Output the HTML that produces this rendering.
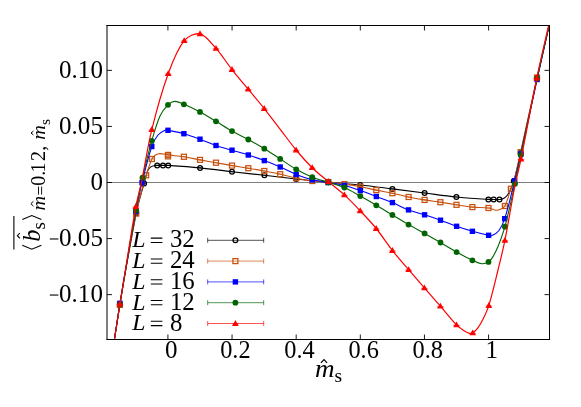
<!DOCTYPE html>
<html><head><meta charset="utf-8"><title>chart</title>
<style>html,body{margin:0;padding:0;background:#fff;}svg{display:block;font-family:"Liberation Serif",serif;}</style>
</head><body>
<svg width="581" height="407" viewBox="0 0 581 407">
<rect width="581" height="407" fill="#fff"/>
<defs><clipPath id="cp"><rect x="107.00" y="25.50" width="442.50" height="314.00"/></clipPath></defs>
<path d="M107.00 182.50H549.50" stroke="#000" stroke-width="0.5"/>
<g clip-path="url(#cp)" fill="none">
<path d="M114.40 339.50 C116.18 328.15 118.00 316.16 119.90 304.50 C121.77 292.99 123.65 281.48 125.70 270.00 C129.09 250.98 132.41 231.94 136.20 213.00 C137.41 206.94 139.10 200.97 140.70 195.00 C141.73 191.14 143.00 187.34 144.10 183.50 C145.24 179.51 145.90 175.31 147.40 171.50 C148.04 169.88 149.20 168.29 150.50 167.20 C151.50 166.36 153.00 166.05 154.30 165.70 C155.23 165.45 156.23 165.43 157.20 165.40 C159.13 165.33 161.07 165.40 163.00 165.40 C164.73 165.40 166.47 165.28 168.20 165.40 C178.84 166.12 189.49 166.85 200.10 167.90 C210.75 168.95 221.36 170.48 232.00 171.70 C242.80 172.94 253.60 174.07 264.40 175.30 C275.00 176.51 285.59 177.84 296.20 179.00 C306.89 180.17 317.59 181.30 328.30 182.30 C338.92 183.30 349.59 183.91 360.20 185.00 C370.95 186.11 381.67 187.57 392.40 188.90 C403.14 190.23 413.87 191.64 424.60 193.00 C435.20 194.34 445.77 195.93 456.40 197.00 C467.04 198.07 477.73 198.68 488.40 199.40 C490.16 199.52 491.93 199.48 493.70 199.50 C495.63 199.52 497.60 199.72 499.50 199.50 C501.03 199.32 502.69 199.04 504.00 198.30 C505.35 197.54 506.56 196.28 507.50 195.00 C508.83 193.18 509.87 191.08 510.80 189.00 C511.97 186.41 513.05 183.74 513.80 181.00 C516.35 171.74 518.58 162.38 520.70 153.00 C526.35 128.04 531.54 102.98 537.10 78.00 C541.00 60.48 545.17 42.68 549.10 25.50" stroke="#000000" stroke-width="1.1" fill="none"/>
<circle cx="119.90" cy="304.50" r="2.4" fill="none" stroke="#000000" stroke-width="1.25"/><path d="M117.40 304.50h5" stroke="#000000" stroke-width="0.7"/>
<circle cx="136.20" cy="213.00" r="2.4" fill="none" stroke="#000000" stroke-width="1.25"/><path d="M133.70 213.00h5" stroke="#000000" stroke-width="0.7"/>
<circle cx="144.10" cy="183.50" r="2.4" fill="none" stroke="#000000" stroke-width="1.25"/><path d="M141.60 183.50h5" stroke="#000000" stroke-width="0.7"/>
<circle cx="157.20" cy="165.40" r="2.4" fill="none" stroke="#000000" stroke-width="1.25"/><path d="M154.70 165.40h5" stroke="#000000" stroke-width="0.7"/>
<circle cx="163.00" cy="165.40" r="2.4" fill="none" stroke="#000000" stroke-width="1.25"/><path d="M160.50 165.40h5" stroke="#000000" stroke-width="0.7"/>
<circle cx="168.20" cy="165.40" r="2.4" fill="none" stroke="#000000" stroke-width="1.25"/><path d="M165.70 165.40h5" stroke="#000000" stroke-width="0.7"/>
<circle cx="200.10" cy="167.90" r="2.4" fill="none" stroke="#000000" stroke-width="1.25"/><path d="M197.60 167.90h5" stroke="#000000" stroke-width="0.7"/>
<circle cx="232.00" cy="171.70" r="2.4" fill="none" stroke="#000000" stroke-width="1.25"/><path d="M229.50 171.70h5" stroke="#000000" stroke-width="0.7"/>
<circle cx="264.40" cy="175.30" r="2.4" fill="none" stroke="#000000" stroke-width="1.25"/><path d="M261.90 175.30h5" stroke="#000000" stroke-width="0.7"/>
<circle cx="296.20" cy="179.00" r="2.4" fill="none" stroke="#000000" stroke-width="1.25"/><path d="M293.70 179.00h5" stroke="#000000" stroke-width="0.7"/>
<circle cx="328.30" cy="182.30" r="2.4" fill="none" stroke="#000000" stroke-width="1.25"/><path d="M325.80 182.30h5" stroke="#000000" stroke-width="0.7"/>
<circle cx="360.20" cy="185.00" r="2.4" fill="none" stroke="#000000" stroke-width="1.25"/><path d="M357.70 185.00h5" stroke="#000000" stroke-width="0.7"/>
<circle cx="392.40" cy="188.90" r="2.4" fill="none" stroke="#000000" stroke-width="1.25"/><path d="M389.90 188.90h5" stroke="#000000" stroke-width="0.7"/>
<circle cx="424.60" cy="193.00" r="2.4" fill="none" stroke="#000000" stroke-width="1.25"/><path d="M422.10 193.00h5" stroke="#000000" stroke-width="0.7"/>
<circle cx="456.40" cy="197.00" r="2.4" fill="none" stroke="#000000" stroke-width="1.25"/><path d="M453.90 197.00h5" stroke="#000000" stroke-width="0.7"/>
<circle cx="488.40" cy="199.40" r="2.4" fill="none" stroke="#000000" stroke-width="1.25"/><path d="M485.90 199.40h5" stroke="#000000" stroke-width="0.7"/>
<circle cx="493.70" cy="199.50" r="2.4" fill="none" stroke="#000000" stroke-width="1.25"/><path d="M491.20 199.50h5" stroke="#000000" stroke-width="0.7"/>
<circle cx="499.50" cy="199.50" r="2.4" fill="none" stroke="#000000" stroke-width="1.25"/><path d="M497.00 199.50h5" stroke="#000000" stroke-width="0.7"/>
<circle cx="513.80" cy="181.00" r="2.4" fill="none" stroke="#000000" stroke-width="1.25"/><path d="M511.30 181.00h5" stroke="#000000" stroke-width="0.7"/>
<circle cx="520.70" cy="153.00" r="2.4" fill="none" stroke="#000000" stroke-width="1.25"/><path d="M518.20 153.00h5" stroke="#000000" stroke-width="0.7"/>
<circle cx="537.10" cy="78.00" r="2.4" fill="none" stroke="#000000" stroke-width="1.25"/><path d="M534.60 78.00h5" stroke="#000000" stroke-width="0.7"/>
<path d="M114.40 339.50 C116.18 328.29 118.03 316.43 119.90 304.90 C121.79 293.26 123.63 281.61 125.70 270.00 C129.06 251.18 132.47 232.35 136.20 213.60 C137.44 207.35 138.99 201.16 140.60 195.00 C142.32 188.40 144.16 181.81 146.20 175.30 C147.92 169.81 149.54 164.16 151.90 159.00 C152.64 157.39 154.06 155.96 155.50 155.00 C156.76 154.16 158.47 153.61 160.00 153.60 C162.63 153.58 165.32 154.54 168.00 154.90 C173.29 155.61 178.63 155.98 183.90 156.80 C189.30 157.64 194.62 158.91 200.00 159.90 C205.32 160.88 210.67 161.75 216.00 162.70 C221.34 163.65 226.66 164.69 232.00 165.60 C237.42 166.52 242.87 167.29 248.30 168.20 C253.64 169.09 258.98 170.00 264.30 171.00 C269.61 172.00 274.93 173.01 280.20 174.20 C285.56 175.41 290.83 177.06 296.20 178.20 C301.53 179.33 306.90 180.36 312.30 181.00 C317.60 181.63 322.98 181.49 328.30 182.00 C333.68 182.52 339.05 183.31 344.40 184.10 C349.71 184.88 355.02 185.71 360.30 186.70 C365.66 187.71 370.96 189.02 376.30 190.10 C381.66 191.18 387.06 192.06 392.40 193.20 C397.82 194.36 403.17 195.87 408.60 197.00 C413.90 198.10 419.25 199.03 424.60 199.90 C429.85 200.76 435.14 201.39 440.40 202.20 C445.77 203.03 451.13 203.98 456.50 204.80 C461.79 205.61 467.08 206.57 472.40 207.10 C477.74 207.63 483.20 207.30 488.50 208.00 C491.00 208.33 493.35 210.00 495.80 210.20 C497.52 210.34 499.42 209.73 501.00 209.00 C502.46 208.33 504.20 207.43 504.90 206.00 C507.50 200.70 508.93 194.54 510.90 188.80 C512.29 184.74 513.90 180.74 515.00 176.60 C517.14 168.54 518.79 160.35 520.60 152.20 C526.12 127.31 531.41 102.37 537.00 77.50 C540.91 60.14 545.14 42.51 549.10 25.50" stroke="#c8500f" stroke-width="1.1" fill="none"/>
<rect x="117.40" y="302.40" width="5" height="5" fill="none" stroke="#c8500f" stroke-width="1.25"/><path d="M117.40 304.90h5" stroke="#c8500f" stroke-width="0.7"/>
<rect x="133.70" y="211.10" width="5" height="5" fill="none" stroke="#c8500f" stroke-width="1.25"/><path d="M133.70 213.60h5" stroke="#c8500f" stroke-width="0.7"/>
<rect x="143.70" y="172.80" width="5" height="5" fill="none" stroke="#c8500f" stroke-width="1.25"/><path d="M143.70 175.30h5" stroke="#c8500f" stroke-width="0.7"/>
<rect x="149.40" y="156.50" width="5" height="5" fill="none" stroke="#c8500f" stroke-width="1.25"/><path d="M149.40 159.00h5" stroke="#c8500f" stroke-width="0.7"/>
<rect x="165.50" y="152.40" width="5" height="5" fill="none" stroke="#c8500f" stroke-width="1.25"/><path d="M165.50 154.90h5" stroke="#c8500f" stroke-width="0.7"/>
<rect x="165.50" y="153.90" width="5" height="5" fill="none" stroke="#c8500f" stroke-width="1.25"/><path d="M165.50 156.40h5" stroke="#c8500f" stroke-width="0.7"/>
<rect x="181.40" y="154.30" width="5" height="5" fill="none" stroke="#c8500f" stroke-width="1.25"/><path d="M181.40 156.80h5" stroke="#c8500f" stroke-width="0.7"/>
<rect x="197.50" y="157.40" width="5" height="5" fill="none" stroke="#c8500f" stroke-width="1.25"/><path d="M197.50 159.90h5" stroke="#c8500f" stroke-width="0.7"/>
<rect x="213.50" y="160.20" width="5" height="5" fill="none" stroke="#c8500f" stroke-width="1.25"/><path d="M213.50 162.70h5" stroke="#c8500f" stroke-width="0.7"/>
<rect x="229.50" y="163.10" width="5" height="5" fill="none" stroke="#c8500f" stroke-width="1.25"/><path d="M229.50 165.60h5" stroke="#c8500f" stroke-width="0.7"/>
<rect x="245.80" y="165.70" width="5" height="5" fill="none" stroke="#c8500f" stroke-width="1.25"/><path d="M245.80 168.20h5" stroke="#c8500f" stroke-width="0.7"/>
<rect x="261.80" y="168.50" width="5" height="5" fill="none" stroke="#c8500f" stroke-width="1.25"/><path d="M261.80 171.00h5" stroke="#c8500f" stroke-width="0.7"/>
<rect x="277.70" y="171.70" width="5" height="5" fill="none" stroke="#c8500f" stroke-width="1.25"/><path d="M277.70 174.20h5" stroke="#c8500f" stroke-width="0.7"/>
<rect x="293.70" y="175.70" width="5" height="5" fill="none" stroke="#c8500f" stroke-width="1.25"/><path d="M293.70 178.20h5" stroke="#c8500f" stroke-width="0.7"/>
<rect x="309.80" y="178.50" width="5" height="5" fill="none" stroke="#c8500f" stroke-width="1.25"/><path d="M309.80 181.00h5" stroke="#c8500f" stroke-width="0.7"/>
<rect x="325.80" y="179.50" width="5" height="5" fill="none" stroke="#c8500f" stroke-width="1.25"/><path d="M325.80 182.00h5" stroke="#c8500f" stroke-width="0.7"/>
<rect x="341.90" y="181.60" width="5" height="5" fill="none" stroke="#c8500f" stroke-width="1.25"/><path d="M341.90 184.10h5" stroke="#c8500f" stroke-width="0.7"/>
<rect x="357.80" y="184.20" width="5" height="5" fill="none" stroke="#c8500f" stroke-width="1.25"/><path d="M357.80 186.70h5" stroke="#c8500f" stroke-width="0.7"/>
<rect x="373.80" y="187.60" width="5" height="5" fill="none" stroke="#c8500f" stroke-width="1.25"/><path d="M373.80 190.10h5" stroke="#c8500f" stroke-width="0.7"/>
<rect x="389.90" y="190.70" width="5" height="5" fill="none" stroke="#c8500f" stroke-width="1.25"/><path d="M389.90 193.20h5" stroke="#c8500f" stroke-width="0.7"/>
<rect x="406.10" y="194.50" width="5" height="5" fill="none" stroke="#c8500f" stroke-width="1.25"/><path d="M406.10 197.00h5" stroke="#c8500f" stroke-width="0.7"/>
<rect x="422.10" y="197.40" width="5" height="5" fill="none" stroke="#c8500f" stroke-width="1.25"/><path d="M422.10 199.90h5" stroke="#c8500f" stroke-width="0.7"/>
<rect x="437.90" y="199.70" width="5" height="5" fill="none" stroke="#c8500f" stroke-width="1.25"/><path d="M437.90 202.20h5" stroke="#c8500f" stroke-width="0.7"/>
<rect x="454.00" y="202.30" width="5" height="5" fill="none" stroke="#c8500f" stroke-width="1.25"/><path d="M454.00 204.80h5" stroke="#c8500f" stroke-width="0.7"/>
<rect x="469.90" y="204.60" width="5" height="5" fill="none" stroke="#c8500f" stroke-width="1.25"/><path d="M469.90 207.10h5" stroke="#c8500f" stroke-width="0.7"/>
<rect x="486.00" y="205.50" width="5" height="5" fill="none" stroke="#c8500f" stroke-width="1.25"/><path d="M486.00 208.00h5" stroke="#c8500f" stroke-width="0.7"/>
<rect x="502.40" y="203.50" width="5" height="5" fill="none" stroke="#c8500f" stroke-width="1.25"/><path d="M502.40 206.00h5" stroke="#c8500f" stroke-width="0.7"/>
<rect x="508.40" y="186.30" width="5" height="5" fill="none" stroke="#c8500f" stroke-width="1.25"/><path d="M508.40 188.80h5" stroke="#c8500f" stroke-width="0.7"/>
<rect x="518.10" y="149.70" width="5" height="5" fill="none" stroke="#c8500f" stroke-width="1.25"/><path d="M518.10 152.20h5" stroke="#c8500f" stroke-width="0.7"/>
<rect x="534.50" y="75.00" width="5" height="5" fill="none" stroke="#c8500f" stroke-width="1.25"/><path d="M534.50 77.50h5" stroke="#c8500f" stroke-width="0.7"/>
<path d="M114.40 339.50 C116.18 327.75 117.98 315.35 119.90 303.30 C121.68 292.19 123.57 281.09 125.50 270.00 C128.91 250.39 132.21 230.76 135.90 211.20 C137.71 201.62 139.67 192.06 142.00 182.60 C144.97 170.50 147.85 158.26 151.80 146.50 C153.18 142.39 155.33 138.29 158.00 135.00 C159.73 132.86 162.54 131.36 165.00 130.20 C165.87 129.79 167.02 130.12 168.00 130.30 C173.32 131.28 178.69 132.25 183.90 133.70 C189.35 135.22 194.68 137.24 200.00 139.20 C205.38 141.18 210.58 143.64 216.00 145.50 C221.25 147.31 226.67 148.63 232.00 150.20 C237.43 151.80 242.91 153.26 248.30 155.00 C253.68 156.73 259.01 158.61 264.30 160.60 C269.65 162.61 274.96 164.73 280.20 167.00 C285.59 169.33 290.75 172.23 296.20 174.40 C301.45 176.49 306.83 178.42 312.30 179.80 C317.53 181.12 322.97 181.55 328.30 182.50 C333.67 183.45 339.12 184.16 344.40 185.50 C349.79 186.86 355.04 188.79 360.30 190.60 C365.67 192.45 370.98 194.51 376.30 196.50 C381.68 198.51 387.10 200.40 392.40 202.60 C397.84 204.86 403.00 207.82 408.50 209.90 C413.73 211.88 419.26 213.08 424.60 214.80 C429.93 216.51 435.23 218.31 440.50 220.20 C445.90 222.14 451.18 224.41 456.60 226.30 C461.82 228.11 467.08 229.81 472.40 231.30 C477.75 232.81 483.18 234.11 488.60 235.30 C489.71 235.54 491.02 236.05 492.00 235.60 C494.49 234.45 497.32 232.74 499.00 230.50 C501.55 227.11 503.39 222.85 504.70 218.70 C508.62 206.28 511.55 193.48 514.70 180.80 C516.91 171.91 518.82 162.95 520.80 154.00 C526.29 129.18 531.63 104.33 537.10 79.50 C541.07 61.49 545.17 43.18 549.10 25.50" stroke="#0000ff" stroke-width="1.1" fill="none"/>
<rect x="117.20" y="300.60" width="5.4" height="5.4" fill="#0000ff"/>
<rect x="133.20" y="208.50" width="5.4" height="5.4" fill="#0000ff"/>
<rect x="139.30" y="179.90" width="5.4" height="5.4" fill="#0000ff"/>
<rect x="149.10" y="143.80" width="5.4" height="5.4" fill="#0000ff"/>
<rect x="165.30" y="127.60" width="5.4" height="5.4" fill="#0000ff"/>
<rect x="181.20" y="131.00" width="5.4" height="5.4" fill="#0000ff"/>
<rect x="197.30" y="136.50" width="5.4" height="5.4" fill="#0000ff"/>
<rect x="213.30" y="142.80" width="5.4" height="5.4" fill="#0000ff"/>
<rect x="229.30" y="147.50" width="5.4" height="5.4" fill="#0000ff"/>
<rect x="245.60" y="152.30" width="5.4" height="5.4" fill="#0000ff"/>
<rect x="261.60" y="157.90" width="5.4" height="5.4" fill="#0000ff"/>
<rect x="277.50" y="164.30" width="5.4" height="5.4" fill="#0000ff"/>
<rect x="293.50" y="171.70" width="5.4" height="5.4" fill="#0000ff"/>
<rect x="309.60" y="177.10" width="5.4" height="5.4" fill="#0000ff"/>
<rect x="325.60" y="179.80" width="5.4" height="5.4" fill="#0000ff"/>
<rect x="341.70" y="182.80" width="5.4" height="5.4" fill="#0000ff"/>
<rect x="357.60" y="187.90" width="5.4" height="5.4" fill="#0000ff"/>
<rect x="373.60" y="193.80" width="5.4" height="5.4" fill="#0000ff"/>
<rect x="389.70" y="199.90" width="5.4" height="5.4" fill="#0000ff"/>
<rect x="405.80" y="207.20" width="5.4" height="5.4" fill="#0000ff"/>
<rect x="421.90" y="212.10" width="5.4" height="5.4" fill="#0000ff"/>
<rect x="437.80" y="217.50" width="5.4" height="5.4" fill="#0000ff"/>
<rect x="453.90" y="223.60" width="5.4" height="5.4" fill="#0000ff"/>
<rect x="469.70" y="228.60" width="5.4" height="5.4" fill="#0000ff"/>
<rect x="485.90" y="232.60" width="5.4" height="5.4" fill="#0000ff"/>
<rect x="502.00" y="216.00" width="5.4" height="5.4" fill="#0000ff"/>
<rect x="512.00" y="178.10" width="5.4" height="5.4" fill="#0000ff"/>
<rect x="518.10" y="151.30" width="5.4" height="5.4" fill="#0000ff"/>
<rect x="534.40" y="76.80" width="5.4" height="5.4" fill="#0000ff"/>
<path d="M114.40 339.50 C116.18 328.15 118.02 316.16 119.90 304.50 C121.75 292.99 123.65 281.49 125.60 270.00 C128.98 250.09 132.26 230.16 135.90 210.30 C137.90 199.40 140.03 188.50 142.50 177.70 C145.33 165.34 148.34 153.00 151.80 140.80 C154.17 132.43 156.46 123.86 160.00 116.00 C161.86 111.86 164.83 107.95 168.00 104.80 C169.73 103.08 172.38 101.47 174.70 101.40 C177.68 101.31 180.94 103.07 183.90 104.30 C189.37 106.57 194.76 109.13 200.00 111.90 C205.46 114.79 210.70 118.12 216.00 121.30 C221.36 124.52 226.55 128.03 232.00 131.10 C237.32 134.10 242.93 136.58 248.30 139.50 C253.70 142.44 259.05 145.50 264.30 148.70 C269.68 151.97 274.91 155.48 280.20 158.90 C285.54 162.35 290.68 166.16 296.20 169.30 C301.38 172.26 306.77 174.96 312.30 177.20 C317.47 179.30 322.97 180.59 328.30 182.30 C333.67 184.02 339.24 185.28 344.40 187.50 C349.91 189.88 355.04 193.16 360.30 196.10 C365.67 199.10 371.00 202.18 376.30 205.30 C381.70 208.48 387.03 211.78 392.40 215.00 C397.76 218.21 403.08 221.50 408.50 224.60 C413.81 227.63 419.26 230.41 424.60 233.40 C429.93 236.38 435.23 239.42 440.50 242.50 C445.89 245.65 451.15 249.06 456.60 252.10 C461.78 254.99 467.03 257.81 472.40 260.30 C475.36 261.67 478.49 263.39 481.60 263.70 C483.86 263.92 486.55 263.06 488.50 261.90 C490.25 260.86 491.60 258.90 492.70 257.10 C494.83 253.60 496.66 249.83 498.20 246.00 C500.73 239.69 503.13 233.27 504.90 226.70 C508.73 212.53 511.82 198.14 515.00 183.80 C517.12 174.27 518.80 164.65 520.80 155.10 C526.16 129.55 531.53 104.00 537.10 78.50 C540.96 60.80 545.17 42.85 549.10 25.50" stroke="#006400" stroke-width="1.1" fill="none"/>
<circle cx="119.90" cy="304.50" r="2.9" fill="#006400"/>
<circle cx="135.90" cy="210.30" r="2.9" fill="#006400"/>
<circle cx="142.50" cy="177.70" r="2.9" fill="#006400"/>
<circle cx="151.80" cy="140.80" r="2.9" fill="#006400"/>
<circle cx="168.00" cy="104.80" r="2.9" fill="#006400"/>
<circle cx="183.90" cy="104.30" r="2.9" fill="#006400"/>
<circle cx="200.00" cy="111.90" r="2.9" fill="#006400"/>
<circle cx="216.00" cy="121.30" r="2.9" fill="#006400"/>
<circle cx="232.00" cy="131.10" r="2.9" fill="#006400"/>
<circle cx="248.30" cy="139.50" r="2.9" fill="#006400"/>
<circle cx="264.30" cy="148.70" r="2.9" fill="#006400"/>
<circle cx="280.20" cy="158.90" r="2.9" fill="#006400"/>
<circle cx="296.20" cy="169.30" r="2.9" fill="#006400"/>
<circle cx="312.30" cy="177.20" r="2.9" fill="#006400"/>
<circle cx="328.30" cy="182.30" r="2.9" fill="#006400"/>
<circle cx="344.40" cy="187.50" r="2.9" fill="#006400"/>
<circle cx="360.30" cy="196.10" r="2.9" fill="#006400"/>
<circle cx="376.30" cy="205.30" r="2.9" fill="#006400"/>
<circle cx="392.40" cy="215.00" r="2.9" fill="#006400"/>
<circle cx="408.50" cy="224.60" r="2.9" fill="#006400"/>
<circle cx="424.60" cy="233.40" r="2.9" fill="#006400"/>
<circle cx="440.50" cy="242.50" r="2.9" fill="#006400"/>
<circle cx="456.60" cy="252.10" r="2.9" fill="#006400"/>
<circle cx="472.40" cy="260.30" r="2.9" fill="#006400"/>
<circle cx="488.50" cy="261.90" r="2.9" fill="#006400"/>
<circle cx="504.90" cy="226.70" r="2.9" fill="#006400"/>
<circle cx="515.00" cy="183.80" r="2.9" fill="#006400"/>
<circle cx="520.80" cy="155.10" r="2.9" fill="#006400"/>
<circle cx="537.10" cy="78.50" r="2.9" fill="#006400"/>
<path d="M114.40 339.50 C116.18 327.99 118.03 315.83 119.90 304.00 C121.69 292.66 123.55 281.33 125.40 270.00 C128.85 248.86 131.95 227.66 135.80 206.60 C137.35 198.16 139.85 189.91 141.60 181.50 C145.19 164.24 147.58 146.70 151.80 129.60 C156.45 110.77 161.57 91.89 168.20 73.70 C172.37 62.25 176.99 49.75 184.20 40.70 C187.59 36.45 195.30 32.66 200.00 33.80 C205.90 35.23 211.21 43.04 216.00 48.40 C221.88 54.97 226.52 62.65 232.00 69.60 C237.25 76.25 242.80 82.66 248.20 89.20 C253.54 95.66 258.97 102.05 264.20 108.60 C269.64 115.42 274.88 122.39 280.20 129.30 C285.51 136.19 290.53 143.32 296.10 150.00 C301.20 156.12 306.52 162.12 312.20 167.70 C317.25 172.66 322.88 177.03 328.30 181.60 C333.62 186.09 339.27 190.21 344.40 194.90 C349.90 199.94 355.07 205.37 360.20 210.80 C365.67 216.57 371.20 222.33 376.20 228.50 C381.93 235.56 386.77 243.35 392.40 250.50 C397.57 257.08 403.16 263.34 408.60 269.70 C413.82 275.80 419.12 281.84 424.40 287.90 C429.72 294.01 435.09 300.08 440.40 306.20 C445.79 312.41 450.80 319.01 456.50 324.90 C458.80 327.28 461.63 329.19 464.40 331.00 C465.96 332.02 467.74 333.00 469.50 333.40 C470.51 333.63 471.82 333.46 472.70 332.90 C474.56 331.72 476.35 330.02 477.70 328.20 C479.85 325.32 481.60 322.05 483.20 318.80 C485.30 314.52 487.42 310.16 488.80 305.60 C492.35 293.90 495.06 281.90 498.00 270.00 C500.43 260.16 502.90 250.33 504.90 240.40 C508.54 222.33 511.32 204.08 514.90 186.00 C516.69 176.98 519.17 168.11 521.00 159.10 C526.47 132.18 531.24 105.11 536.80 78.20 C540.44 60.57 544.74 42.75 548.60 25.50" stroke="#ff0000" stroke-width="1.2" fill="none"/>
<path d="M119.90 300.50L123.20 306.40L116.60 306.40Z" fill="#ff0000"/><path d="M116.60 304.40h6.6" stroke="#ff0000" stroke-width="0.6"/>
<path d="M135.80 203.10L139.10 209.00L132.50 209.00Z" fill="#ff0000"/><path d="M132.50 207.00h6.6" stroke="#ff0000" stroke-width="0.6"/>
<path d="M151.80 126.10L155.10 132.00L148.50 132.00Z" fill="#ff0000"/><path d="M148.50 130.00h6.6" stroke="#ff0000" stroke-width="0.6"/>
<path d="M168.20 70.20L171.50 76.10L164.90 76.10Z" fill="#ff0000"/><path d="M164.90 74.10h6.6" stroke="#ff0000" stroke-width="0.6"/>
<path d="M184.20 37.20L187.50 43.10L180.90 43.10Z" fill="#ff0000"/><path d="M180.90 41.10h6.6" stroke="#ff0000" stroke-width="0.6"/>
<path d="M200.00 30.30L203.30 36.20L196.70 36.20Z" fill="#ff0000"/><path d="M196.70 34.20h6.6" stroke="#ff0000" stroke-width="0.6"/>
<path d="M216.00 44.90L219.30 50.80L212.70 50.80Z" fill="#ff0000"/><path d="M212.70 48.80h6.6" stroke="#ff0000" stroke-width="0.6"/>
<path d="M232.00 66.10L235.30 72.00L228.70 72.00Z" fill="#ff0000"/><path d="M228.70 70.00h6.6" stroke="#ff0000" stroke-width="0.6"/>
<path d="M248.20 85.70L251.50 91.60L244.90 91.60Z" fill="#ff0000"/><path d="M244.90 89.60h6.6" stroke="#ff0000" stroke-width="0.6"/>
<path d="M264.20 105.10L267.50 111.00L260.90 111.00Z" fill="#ff0000"/><path d="M260.90 109.00h6.6" stroke="#ff0000" stroke-width="0.6"/>
<path d="M296.10 146.50L299.40 152.40L292.80 152.40Z" fill="#ff0000"/><path d="M292.80 150.40h6.6" stroke="#ff0000" stroke-width="0.6"/>
<path d="M312.20 164.20L315.50 170.10L308.90 170.10Z" fill="#ff0000"/><path d="M308.90 168.10h6.6" stroke="#ff0000" stroke-width="0.6"/>
<path d="M328.30 178.10L331.60 184.00L325.00 184.00Z" fill="#ff0000"/><path d="M325.00 182.00h6.6" stroke="#ff0000" stroke-width="0.6"/>
<path d="M344.40 191.40L347.70 197.30L341.10 197.30Z" fill="#ff0000"/><path d="M341.10 195.30h6.6" stroke="#ff0000" stroke-width="0.6"/>
<path d="M360.20 207.30L363.50 213.20L356.90 213.20Z" fill="#ff0000"/><path d="M356.90 211.20h6.6" stroke="#ff0000" stroke-width="0.6"/>
<path d="M376.20 225.00L379.50 230.90L372.90 230.90Z" fill="#ff0000"/><path d="M372.90 228.90h6.6" stroke="#ff0000" stroke-width="0.6"/>
<path d="M392.40 247.00L395.70 252.90L389.10 252.90Z" fill="#ff0000"/><path d="M389.10 250.90h6.6" stroke="#ff0000" stroke-width="0.6"/>
<path d="M408.60 266.20L411.90 272.10L405.30 272.10Z" fill="#ff0000"/><path d="M405.30 270.10h6.6" stroke="#ff0000" stroke-width="0.6"/>
<path d="M424.40 284.40L427.70 290.30L421.10 290.30Z" fill="#ff0000"/><path d="M421.10 288.30h6.6" stroke="#ff0000" stroke-width="0.6"/>
<path d="M440.40 302.70L443.70 308.60L437.10 308.60Z" fill="#ff0000"/><path d="M437.10 306.60h6.6" stroke="#ff0000" stroke-width="0.6"/>
<path d="M456.50 321.40L459.80 327.30L453.20 327.30Z" fill="#ff0000"/><path d="M453.20 325.30h6.6" stroke="#ff0000" stroke-width="0.6"/>
<path d="M472.70 329.40L476.00 335.30L469.40 335.30Z" fill="#ff0000"/><path d="M469.40 333.30h6.6" stroke="#ff0000" stroke-width="0.6"/>
<path d="M488.80 302.10L492.10 308.00L485.50 308.00Z" fill="#ff0000"/><path d="M485.50 306.00h6.6" stroke="#ff0000" stroke-width="0.6"/>
<path d="M504.90 236.90L508.20 242.80L501.60 242.80Z" fill="#ff0000"/><path d="M501.60 240.80h6.6" stroke="#ff0000" stroke-width="0.6"/>
<path d="M521.00 155.60L524.30 161.50L517.70 161.50Z" fill="#ff0000"/><path d="M517.70 159.50h6.6" stroke="#ff0000" stroke-width="0.6"/>
<path d="M536.80 74.70L540.10 80.60L533.50 80.60Z" fill="#ff0000"/><path d="M533.50 78.60h6.6" stroke="#ff0000" stroke-width="0.6"/>
</g>
<path d="M107.00 25.00V340.00" stroke="#000" stroke-width="1" />
<path d="M106.50 25.50H550.00" stroke="#000" stroke-width="1" />
<path d="M549.50 25.00V340.00" stroke="#000" stroke-width="1" />
<path d="M106.50 339.50H550.00" stroke="#000" stroke-width="1" />
<path d="M167.92 339.50v-5M167.92 25.50v5M232.05 339.50v-5M232.05 25.50v5M296.18 339.50v-5M296.18 25.50v5M360.31 339.50v-5M360.31 25.50v5M424.44 339.50v-5M424.44 25.50v5M488.57 339.50v-5M488.57 25.50v5M107.00 294.64h5M549.50 294.64h-5M107.00 238.57h5M549.50 238.57h-5M107.00 182.50h5M549.50 182.50h-5M107.00 126.43h5M549.50 126.43h-5M107.00 70.36h5M549.50 70.36h-5" stroke="#000" stroke-width="0.9"/>
<g style="filter:grayscale(1)">
<text x="171.22" y="357.60" font-size="25.5" text-anchor="middle" textLength="12.50" lengthAdjust="spacingAndGlyphs">0</text>
<text x="235.35" y="357.60" font-size="25.5" text-anchor="middle" textLength="30.40" lengthAdjust="spacingAndGlyphs">0.2</text>
<text x="299.48" y="357.60" font-size="25.5" text-anchor="middle" textLength="30.40" lengthAdjust="spacingAndGlyphs">0.4</text>
<text x="363.61" y="357.60" font-size="25.5" text-anchor="middle" textLength="30.40" lengthAdjust="spacingAndGlyphs">0.6</text>
<text x="427.74" y="357.60" font-size="25.5" text-anchor="middle" textLength="30.40" lengthAdjust="spacingAndGlyphs">0.8</text>
<text x="491.87" y="357.60" font-size="25.5" text-anchor="middle" textLength="12.50" lengthAdjust="spacingAndGlyphs">1</text>
<text x="102.90" y="77.86" font-size="25.5" text-anchor="end" textLength="43.80" lengthAdjust="spacingAndGlyphs">0.10</text>
<text x="102.90" y="133.93" font-size="25.5" text-anchor="end" textLength="43.80" lengthAdjust="spacingAndGlyphs">0.05</text>
<text x="102.90" y="190.00" font-size="25.5" text-anchor="end" textLength="12.50" lengthAdjust="spacingAndGlyphs">0</text>
<text x="102.90" y="246.07" font-size="25.5" text-anchor="end" textLength="43.80" lengthAdjust="spacingAndGlyphs">0.05</text>
<path d="M49.8 238.97H58.4" stroke="#000" stroke-width="1.1"/>
<text x="102.90" y="302.14" font-size="25.5" text-anchor="end" textLength="43.80" lengthAdjust="spacingAndGlyphs">0.10</text>
<path d="M49.8 295.04H58.4" stroke="#000" stroke-width="1.1"/>
<text x="315.00" y="376.60" font-size="25" text-anchor="start" font-style="italic" textLength="19.60" lengthAdjust="spacingAndGlyphs">m</text>
<path d="M320.9 362.9L324.0 359.7L327.1 362.9" fill="none" stroke="#000" stroke-width="1.15"/>
<text x="334.60" y="382.00" font-size="19.5" text-anchor="start">s</text>
<text x="132.20" y="247.10" font-size="22.5" text-anchor="start" font-style="italic" textLength="13.20" lengthAdjust="spacingAndGlyphs">L</text>
<path d="M150.8 238.10H162.4M150.8 242.40H162.4" stroke="#000" stroke-width="1.05"/>
<text x="169.90" y="247.40" font-size="24.2" text-anchor="start" textLength="24.80" lengthAdjust="spacingAndGlyphs">32</text>
<text x="132.20" y="267.90" font-size="22.5" text-anchor="start" font-style="italic" textLength="13.20" lengthAdjust="spacingAndGlyphs">L</text>
<path d="M150.8 258.90H162.4M150.8 263.20H162.4" stroke="#000" stroke-width="1.05"/>
<text x="169.90" y="268.20" font-size="24.2" text-anchor="start" textLength="24.80" lengthAdjust="spacingAndGlyphs">24</text>
<text x="132.20" y="288.70" font-size="22.5" text-anchor="start" font-style="italic" textLength="13.20" lengthAdjust="spacingAndGlyphs">L</text>
<path d="M150.8 279.70H162.4M150.8 284.00H162.4" stroke="#000" stroke-width="1.05"/>
<text x="169.90" y="289.00" font-size="24.2" text-anchor="start" textLength="24.80" lengthAdjust="spacingAndGlyphs">16</text>
<text x="132.20" y="309.50" font-size="22.5" text-anchor="start" font-style="italic" textLength="13.20" lengthAdjust="spacingAndGlyphs">L</text>
<path d="M150.8 300.50H162.4M150.8 304.80H162.4" stroke="#000" stroke-width="1.05"/>
<text x="169.90" y="309.80" font-size="24.2" text-anchor="start" textLength="24.80" lengthAdjust="spacingAndGlyphs">12</text>
<text x="132.20" y="330.30" font-size="22.5" text-anchor="start" font-style="italic" textLength="13.20" lengthAdjust="spacingAndGlyphs">L</text>
<path d="M150.8 321.30H162.4M150.8 325.60H162.4" stroke="#000" stroke-width="1.05"/>
<text x="169.90" y="330.60" font-size="24.2" text-anchor="start" textLength="12.40" lengthAdjust="spacingAndGlyphs">8</text>
<g transform="translate(0 250) rotate(-90)">
<path d="M0.6 13.9H34.0" stroke="#000" stroke-width="1.1"/>
<path d="M4.7 22.3L0.8 31.8L4.7 41.4" fill="none" stroke="#000" stroke-width="1.1"/>
<text x="8.30" y="39.60" font-size="24.5" text-anchor="start" font-style="italic">b</text>
<path d="M11.6 19.9L14.3 17.4L17.0 19.9" fill="none" stroke="#000" stroke-width="1.1"/>
<text x="20.40" y="44.70" font-size="19" text-anchor="start">s</text>
<path d="M30.5 22.3L34.5 31.8L30.5 41.4" fill="none" stroke="#000" stroke-width="1.1"/>
<text x="39.60" y="44.80" font-size="18" text-anchor="start" font-style="italic" textLength="14.60" lengthAdjust="spacingAndGlyphs">m</text>
<path d="M43.9 33.4L46.3 30.9L48.7 33.4" fill="none" stroke="#000" stroke-width="1"/>
<path d="M55.4 38.5H63.5M55.4 41.6H63.5" stroke="#000" stroke-width="0.9"/>
<text x="64.30" y="44.90" font-size="20" text-anchor="start">0</text>
<text x="74.20" y="44.90" font-size="20" text-anchor="start">.</text>
<text x="77.60" y="44.90" font-size="20" text-anchor="start">1</text>
<text x="88.90" y="44.90" font-size="20" text-anchor="start">2</text>
<text x="99.20" y="44.90" font-size="20" text-anchor="start">,</text>
<text x="110.20" y="44.80" font-size="18" text-anchor="start" font-style="italic" textLength="14.60" lengthAdjust="spacingAndGlyphs">m</text>
<path d="M115.1 33.4L117.0 31.0L118.9 33.4" fill="none" stroke="#000" stroke-width="1"/>
<text x="125.10" y="50.20" font-size="15.5" text-anchor="start">s</text>
</g>
</g>
<path d="M207.7 240.30H263.7M207.7 237.80v5M263.7 237.80v5" stroke="#000000" stroke-width="1" stroke-opacity="0.68" fill="none"/>
<circle cx="235.40" cy="240.30" r="2.4" fill="none" stroke="#000000" stroke-width="1.25"/>
<path d="M207.7 261.10H263.7M207.7 258.60v5M263.7 258.60v5" stroke="#c8500f" stroke-width="1" stroke-opacity="0.68" fill="none"/>
<rect x="232.90" y="258.60" width="5" height="5" fill="none" stroke="#c8500f" stroke-width="1.25"/>
<path d="M207.7 281.90H263.7M207.7 279.40v5M263.7 279.40v5" stroke="#0000ff" stroke-width="1" stroke-opacity="0.68" fill="none"/>
<rect x="232.70" y="279.20" width="5.4" height="5.4" fill="#0000ff"/>
<path d="M207.7 302.70H263.7M207.7 300.20v5M263.7 300.20v5" stroke="#006400" stroke-width="1" stroke-opacity="0.68" fill="none"/>
<circle cx="235.40" cy="302.70" r="2.9" fill="#006400"/>
<path d="M207.7 323.50H263.7M207.7 321.00v5M263.7 321.00v5" stroke="#ff0000" stroke-width="1" stroke-opacity="0.68" fill="none"/>
<path d="M235.40 320.00L238.70 325.90L232.10 325.90Z" fill="#ff0000"/><path d="M232.10 323.90h6.6" stroke="#ff0000" stroke-width="0.6"/>
</svg>
</body></html>
